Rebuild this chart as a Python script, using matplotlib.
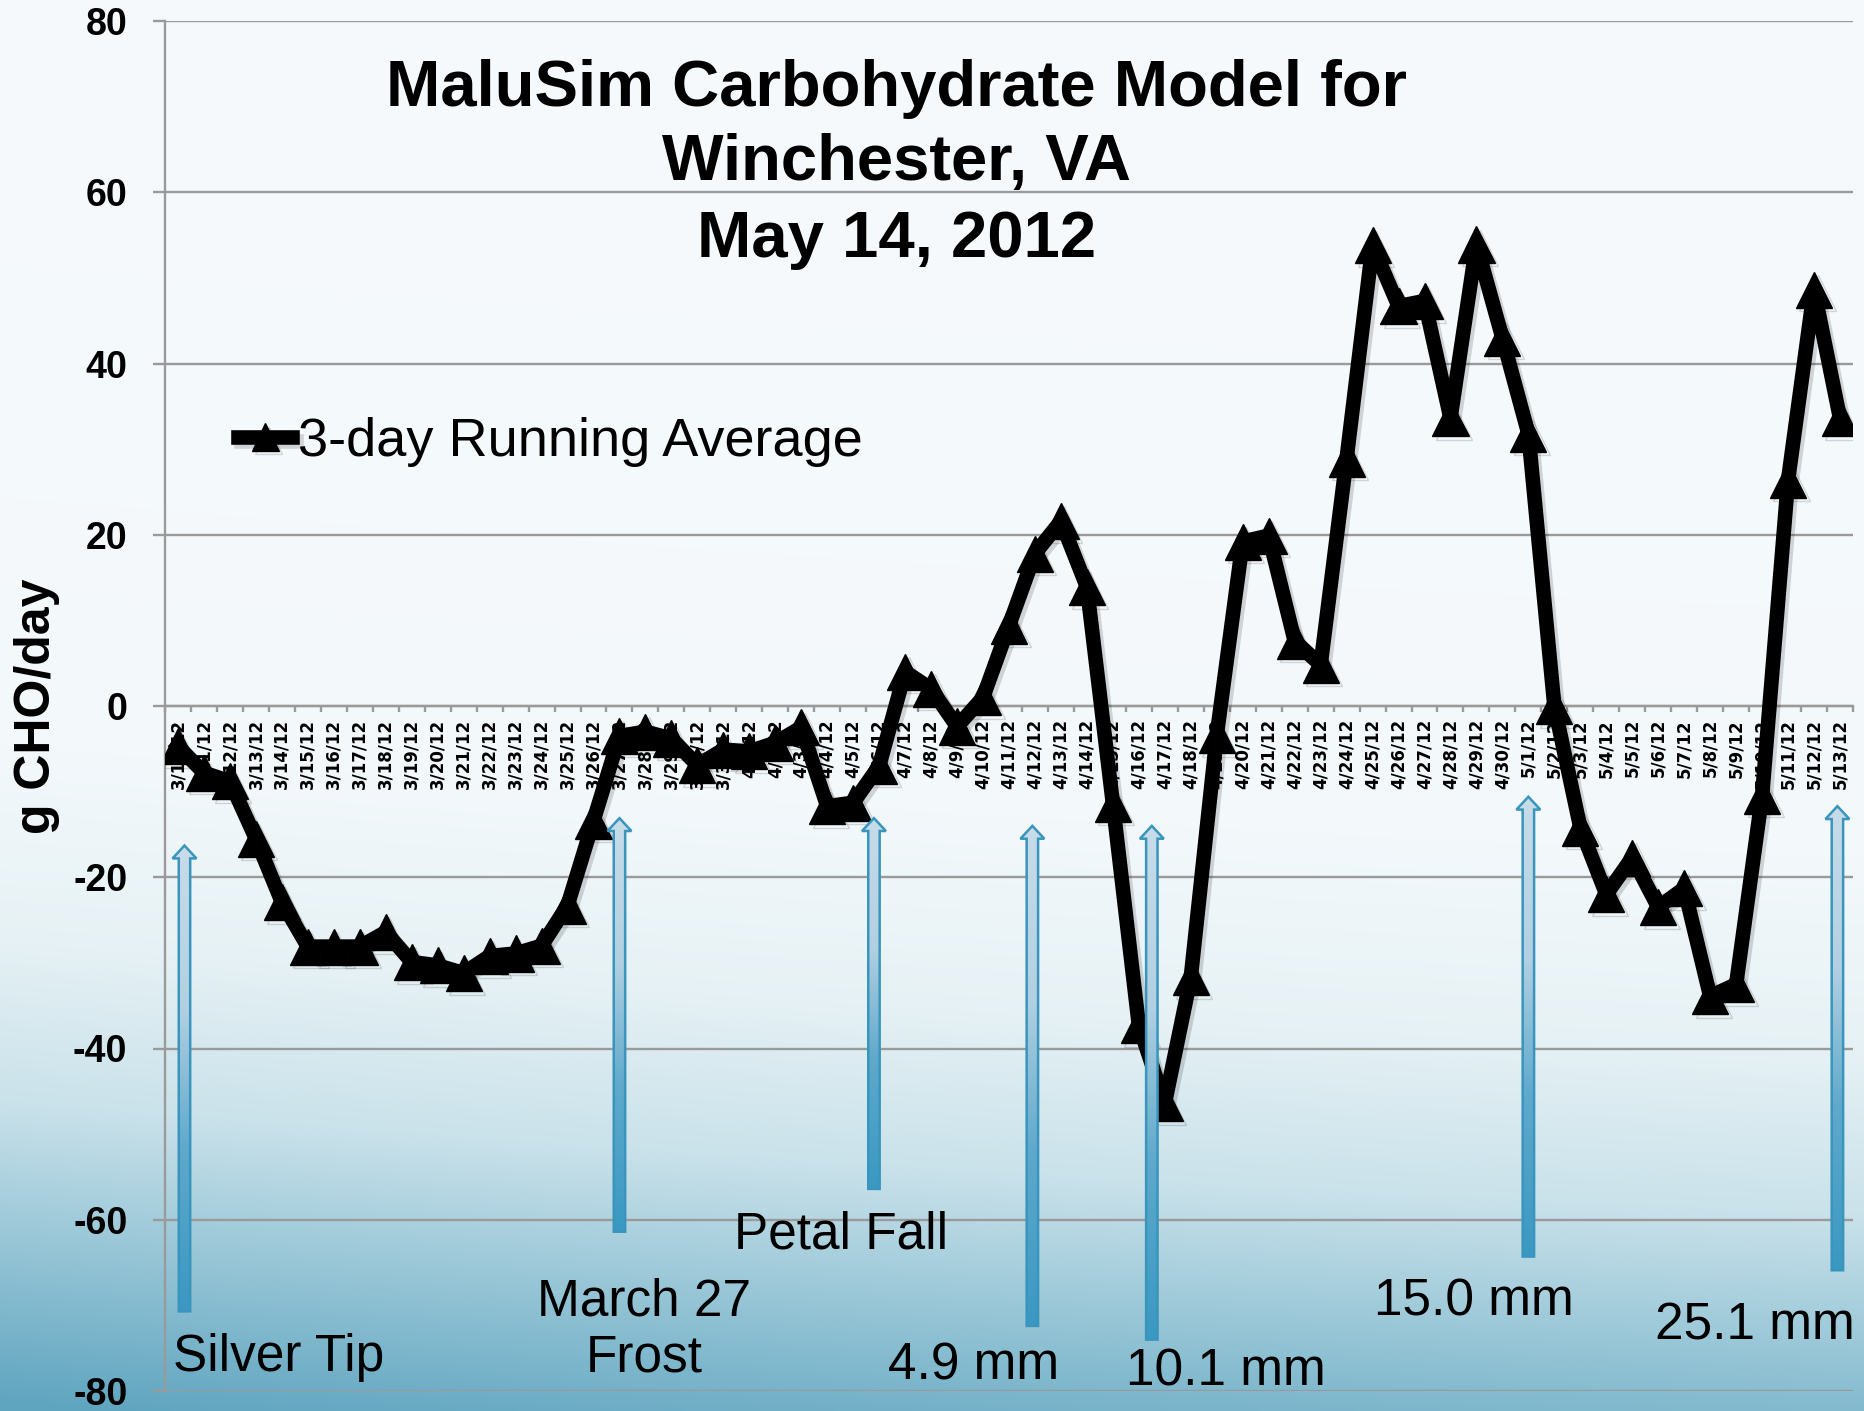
import numpy as np
import matplotlib
matplotlib.use("Agg")
import matplotlib.pyplot as plt
from matplotlib.patches import Polygon
from matplotlib.colors import LinearSegmentedColormap
import matplotlib.patheffects as pe
from matplotlib.ticker import FixedLocator

plt.rcParams['axes.unicode_minus'] = False

# ---------------- data ----------------
dates = ['3/10/12', '3/11/12', '3/12/12', '3/13/12', '3/14/12', '3/15/12', '3/16/12',
         '3/17/12', '3/18/12', '3/19/12', '3/20/12', '3/21/12', '3/22/12', '3/23/12',
         '3/24/12', '3/25/12', '3/26/12', '3/27/12', '3/28/12', '3/29/12', '3/30/12',
         '3/31/12', '4/1/12', '4/2/12', '4/3/12', '4/4/12', '4/5/12', '4/6/12', '4/7/12',
         '4/8/12', '4/9/12', '4/10/12', '4/11/12', '4/12/12', '4/13/12', '4/14/12',
         '4/15/12', '4/16/12', '4/17/12', '4/18/12', '4/19/12', '4/20/12', '4/21/12',
         '4/22/12', '4/23/12', '4/24/12', '4/25/12', '4/26/12', '4/27/12', '4/28/12',
         '4/29/12', '4/30/12', '5/1/12', '5/2/12', '5/3/12', '5/4/12', '5/5/12', '5/6/12',
         '5/7/12', '5/8/12', '5/9/12', '5/10/12', '5/11/12', '5/12/12', '5/13/12']

running_avg = [-4.7, -7.8, -8.8, -15.5, -22.9, -28.1, -28.1, -28.1, -26.4, -29.9,
               -30.3, -31.2, -29.2, -28.9, -28.0, -23.3, -13.4, -3.5, -3.0, -3.8,
               -6.9, -5.1, -5.3, -4.3, -2.5, -11.7, -11.3, -7.0, 4.0, 2.0,
               -2.4, 1.0, 9.4, 17.8, 21.6, 13.9, -11.4, -37.3, -46.4, -31.7,
               -3.4, 19.2, 19.9, 7.6, 4.8, 28.9, 53.8, 46.7, 47.3, 33.6,
               53.9, 43.0, 31.8, 0.0, -14.2, -22.0, -17.7, -23.5, -21.3, -33.9,
               -32.5, -10.5, 26.4, 48.6, 33.6]

series_label = '3-day Running Average'
y_ticks = [-80, -60, -40, -20, 0, 20, 40, 60, 80]

# event annotations (category position, arrow top, arrow bottom)
arrow_x = [0.25, 17.0, 26.8, 32.9, 37.5, 52.0, 63.9]
arrow_top = [-16.3, -13.1, -13.1, -14.0, -14.0, -10.6, -11.7]
arrow_bottom = [-70.7, -61.4, -56.4, -72.4, -74.0, -64.3, -65.9]

note_text = ['Silver Tip', 'March 27', 'Frost', 'Petal Fall', '4.9 mm', '10.1 mm',
             '15.0 mm', '25.1 mm']
note_x = [3.89, 17.94, 17.94, 25.53, 30.65, 40.35, 49.9, 60.72]
note_y = [-77.7, -71.2, -77.7, -63.4, -78.6, -79.3, -71.2, -74.0]

title_lines = ['MaluSim Carbohydrate Model for', 'Winchester, VA', 'May 14, 2012']

# ---------------- figure ----------------
W, H = 1864, 1411
fig = plt.figure(figsize=(W / 100, H / 100), dpi=100)

# background gradient
bg = fig.add_axes([0, 0, 1, 1], zorder=-10)
yy, xx = np.mgrid[0:1:400j, 0:1:400j]
t = yy + 0.08 * (1 - xx) - 0.03 + 0.03 * (xx - 0.5) ** 2
stops = np.array([0.0, 0.58, 0.72, 0.84, 0.93, 1.05])
cols = np.array([[0.965, 0.980, 0.990],
                 [0.955, 0.975, 0.985],
                 [0.905, 0.948, 0.962],
                 [0.790, 0.885, 0.918],
                 [0.610, 0.785, 0.848],
                 [0.380, 0.650, 0.755]])
img = np.zeros(t.shape + (3,))
for c in range(3):
    img[..., c] = np.interp(t, stops, cols[:, c])
bg.imshow(img, extent=[0, 1, 0, 1], aspect='auto', origin='upper', interpolation='bilinear')
bg.axis('off')

ax = fig.add_axes([165 / W, 1 - 1391 / H, 1688 / W, 1370 / H])
ax.patch.set_alpha(0)

x = np.arange(len(dates))
ax.plot(x, running_avg, color='black', lw=10.5, marker='^', ms=26, label=series_label,
        zorder=3,
        path_effects=[pe.SimpleLineShadow(offset=(2.5, -2.5), alpha=0.15, shadow_color='black'),
                      pe.Normal()])

gray = '#9a9a9a'
ax.set_yticks(y_ticks)
ax.grid(axis='y', color=gray, lw=1.7)
for s in ['top', 'right']:
    ax.spines[s].set_visible(False)
ax.spines['left'].set_color(gray)
ax.spines['left'].set_linewidth(1.7)
ax.spines['bottom'].set_position(('data', 0))
ax.spines['bottom'].set_color(gray)
ax.spines['bottom'].set_linewidth(1.7)

ax.tick_params(axis='y', length=8.6, width=1.7, color=gray, pad=18.5, labelsize=27)
for lbl in ax.get_yticklabels():
    lbl.set_fontfamily('Liberation Sans')
    lbl.set_fontweight('bold')

ax.set_xticks(x)
ax.set_xticklabels(dates, rotation=90, fontsize=12, fontweight='bold', family='DejaVu Sans')
ax.tick_params(axis='x', which='major', length=0, pad=9.4)
ax.xaxis.set_minor_locator(FixedLocator(np.arange(-0.5, len(dates), 1)))
ax.tick_params(axis='x', which='minor', length=4, width=1.7, color=gray, direction='out')

ax.set_ylabel('g CHO/day', fontsize=36, fontweight='bold', family='Liberation Sans')
ax.yaxis.set_label_coords(-0.0622, 0.5)

# arrows
cmap = LinearSegmentedColormap.from_list('arr', [(0.0, '#3a98c2'), (0.35, '#5fa9cc'),
                                                 (0.65, '#b2d0e2'), (1.0, '#c8dce9')])
hw, hh, hl = 0.22, 0.46, 1.5
for cx, top, bot in zip(arrow_x, arrow_top, arrow_bottom):
    verts = [(cx - hw, bot), (cx + hw, bot), (cx + hw, top - hl), (cx + hh, top - hl),
             (cx, top), (cx - hh, top - hl), (cx - hw, top - hl)]
    poly = Polygon(verts, closed=True, facecolor='none', edgecolor='#3a95bd', lw=1.8,
                   zorder=5)
    ax.add_patch(poly)
    grad = np.linspace(0, 1, 256).reshape(-1, 1)
    im = ax.imshow(grad, extent=(cx - 0.6, cx + 0.6, bot, top), origin='lower', cmap=cmap,
                   aspect='auto', zorder=4.9, interpolation='bilinear')
    im.set_clip_path(poly)

for s, nx, ny in zip(note_text, note_x, note_y):
    ax.text(nx, ny, s, ha='center', va='baseline', fontsize=37, family='Liberation Sans',
            color='black', zorder=6)

ax.set_xlim(-0.5, len(dates) - 0.5)
ax.set_ylim(-80, 80)

leg = ax.legend(loc='center left', bbox_to_anchor=(238 / W, 1 - 442 / H),
                bbox_transform=fig.transFigure, frameon=False,
                prop={'family': 'Liberation Sans', 'size': 39},
                handlelength=1.0, handletextpad=0.1, borderpad=0, borderaxespad=0,
                markerscale=0.75)

title_base = [106, 180, 257]
for line, yb in zip(title_lines, title_base):
    fig.text(897 / W, 1 - yb / H, line, ha='center', va='baseline', fontsize=47,
             fontweight='bold', family='Liberation Sans')

fig.savefig('out.png', dpi=100)
